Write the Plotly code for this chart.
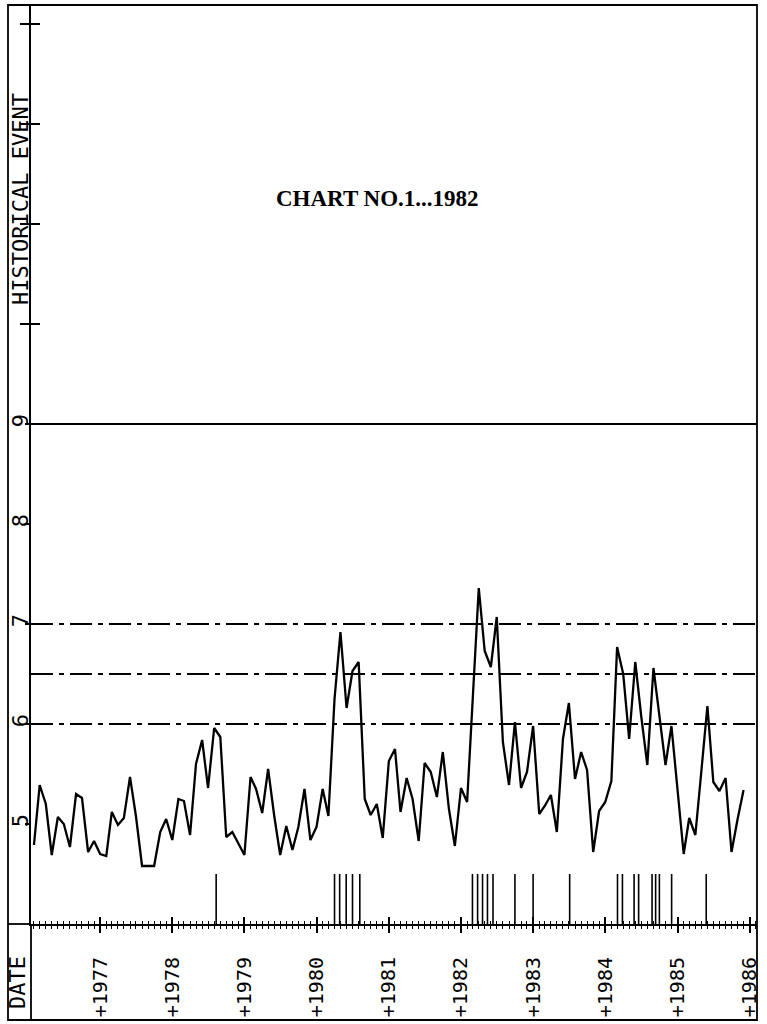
import plotly.graph_objects as go
import pandas as pd

# ---------------- data ----------------
first_month = "1976-02-01"
values = [
    4.79, 5.39, 5.20, 4.69, 5.07, 5.00, 4.77, 5.30, 5.26, 4.72, 4.83,
    4.70, 4.68, 5.12, 4.99, 5.06, 5.47, 5.08, 4.58, 4.58, 4.58, 4.92, 5.05,
    4.84, 5.25, 5.23, 4.89, 5.60, 5.84, 5.36, 5.96, 5.87, 4.87, 4.92, 4.80,
    4.69, 5.47, 5.35, 5.11, 5.55, 5.08, 4.69, 4.98, 4.74, 4.97, 5.35, 4.84,
    4.97, 5.35, 5.08, 6.25, 6.92, 6.16, 6.53, 6.62, 5.25, 5.09, 5.20, 4.86,
    5.63, 5.75, 5.12, 5.46, 5.25, 4.83, 5.61, 5.52, 5.27, 5.72, 5.15, 4.78,
    5.36, 5.22, 6.30, 7.36, 6.73, 6.57, 7.07, 5.82, 5.39, 6.02, 5.36, 5.52,
    5.98, 5.10, 5.18, 5.29, 4.92, 5.85, 6.21, 5.45, 5.72, 5.54, 4.72, 5.13,
    5.22, 5.43, 6.77, 6.50, 5.85, 6.62, 6.08, 5.59, 6.56, 6.08, 5.59, 5.98,
    5.35, 4.70, 5.06, 4.89, 5.52, 6.18, 5.42, 5.33, 5.46, 4.72, 5.05, 5.34,
]
months = pd.date_range(first_month, periods=len(values), freq="MS")

event_dates = [
    "1978-08-11",
    "1980-04-01", "1980-04-27", "1980-05-30", "1980-07-01", "1980-08-07",
    "1982-02-28", "1982-03-26", "1982-04-20", "1982-05-15", "1982-06-12",
    "1982-10-01", "1983-01-01", "1983-07-05",
    "1984-03-03", "1984-03-28", "1984-05-26", "1984-06-18",
    "1984-08-25", "1984-09-12", "1984-10-01", "1984-12-02",
    "1985-05-26",
]
event_low, event_high = 4.0, 4.5

solid_levels = [9]
dashdot_levels = [7, 6.5, 6]

year_ticks = list(range(1977, 1987))
year_labels = ["+%d" % y for y in year_ticks]
y_labelled = [5, 6, 7, 8, 9]
y_unlabelled = [10, 11, 12, 13]

# ---------------- layout constants ----------------
X_RANGE = ["1976-01-17", "1986-02-07"]
Y_RANGE = [4.0, 13.19]
MONO = "DejaVu Sans Mono"
L, R, T, B = 31, 10, 5, 100
W, H = 767, 1024
pw, ph = W - L - R, H - T - B
px = lambda x: (x - L) / pw
py = lambda y: (H - B - y) / ph

ev_x, ev_y = [], []
for d in event_dates:
    ev_x += [d, d, None]
    ev_y += [event_low, event_high, None]

fig = go.Figure()
fig.add_trace(go.Scatter(x=months, y=values, mode="lines",
                         line=dict(color="black", width=2.3),
                         xaxis="x", yaxis="y", hoverinfo="skip"))
fig.add_trace(go.Scatter(x=ev_x, y=ev_y, mode="lines",
                         line=dict(color="black", width=1.6),
                         xaxis="x2", yaxis="y2", hoverinfo="skip"))

shapes = []
for lv in solid_levels:
    shapes.append(dict(type="line", xref="paper", yref="y", x0=0, x1=1, y0=lv, y1=lv,
                       line=dict(color="black", width=1.8)))
for lv in dashdot_levels:
    shapes.append(dict(type="line", xref="paper", yref="y", x0=0, x1=1, y0=lv, y1=lv,
                       line=dict(color="black", width=1.8, dash="22px,6px,5px,6px")))
# outer frame + strip extensions
shapes.append(dict(type="rect", xref="paper", yref="paper", x0=px(8), x1=1, y0=py(1020), y1=1,
                   line=dict(color="black", width=1.8)))
shapes.append(dict(type="line", xref="paper", yref="paper", x0=0, x1=0, y0=py(1020), y1=0,
                   line=dict(color="black", width=1.8)))
shapes.append(dict(type="line", xref="paper", yref="paper", x0=px(8), x1=0, y0=0, y1=0,
                   line=dict(color="black", width=1.8)))

tickfont = dict(family=MONO, size=20, color="black")

fig.update_layout(
    width=W, height=H,
    margin=dict(l=L, r=R, t=T, b=B, pad=0, autoexpand=False),
    paper_bgcolor="white", plot_bgcolor="white",
    showlegend=False,
    shapes=shapes,
    xaxis=dict(type="date", range=X_RANGE, showgrid=False, zeroline=False, automargin=False,
               showline=True, linecolor="black", linewidth=2,
               tickmode="array", tickvals=["%d-01-01" % y for y in year_ticks],
               ticktext=year_labels, tickangle=-90, tickfont=tickfont,
               ticks="outside", ticklen=7, tickwidth=1.5, tickcolor="black",
               ticklabelstandoff=16,
               minor=dict(dtick="M1", tick0="1976-01-01", ticks="outside",
                          ticklen=3, tickwidth=1.2, tickcolor="black")),
    xaxis2=dict(type="date", range=X_RANGE, overlaying="x", anchor="y", side="bottom",
                automargin=False,
                showgrid=False, zeroline=False, showline=False, showticklabels=False,
                tickmode="array", tickvals=["%d-01-01" % y for y in year_ticks],
                ticks="inside", ticklen=7, tickwidth=1.5, tickcolor="black",
                minor=dict(dtick="M1", tick0="1976-01-01", ticks="inside",
                           ticklen=3, tickwidth=1.2, tickcolor="black")),
    yaxis=dict(range=Y_RANGE, showgrid=False, zeroline=False, automargin=False,
               showline=True, linecolor="black", linewidth=2,
               tickmode="array", tickvals=y_labelled, ticktext=[str(v) for v in y_labelled],
               tickangle=-90, tickfont=dict(family=MONO, size=22, color="black"),
               ticks="outside", ticklen=4, tickwidth=1.5, tickcolor="black",
               ticklabelstandoff=-12,
               minor=dict(tickmode="array", tickvals=y_unlabelled, ticks="outside",
                          ticklen=9, tickwidth=1.5, tickcolor="black")),
    yaxis2=dict(range=Y_RANGE, overlaying="y", anchor="x", side="left", automargin=False,
                showgrid=False, zeroline=False, showline=False, showticklabels=False,
                tickmode="array", tickvals=y_unlabelled,
                ticks="inside", ticklen=9, tickwidth=1.5, tickcolor="black"),
    annotations=[
        dict(text="<b>CHART NO.1...1982</b>", xref="paper", yref="paper",
             x=px(377), y=py(198), xanchor="center", yanchor="middle", showarrow=False,
             font=dict(family="Liberation Serif", size=23, color="black")),
        dict(text="HISTORICAL EVENT", xref="paper", yref="paper",
             x=px(20), y=py(199), xanchor="center", yanchor="middle",
             showarrow=False, textangle=-90,
             font=dict(family=MONO, size=22, color="black")),
        dict(text="DATE", xref="paper", yref="paper",
             x=px(17), y=py(983), xanchor="center", yanchor="middle",
             showarrow=False, textangle=-90,
             font=dict(family=MONO, size=22, color="black")),
    ],
)

fig.write_html("out.html", config={"displayModeBar": False},
               post_script="document.body.style.margin='0px';")
